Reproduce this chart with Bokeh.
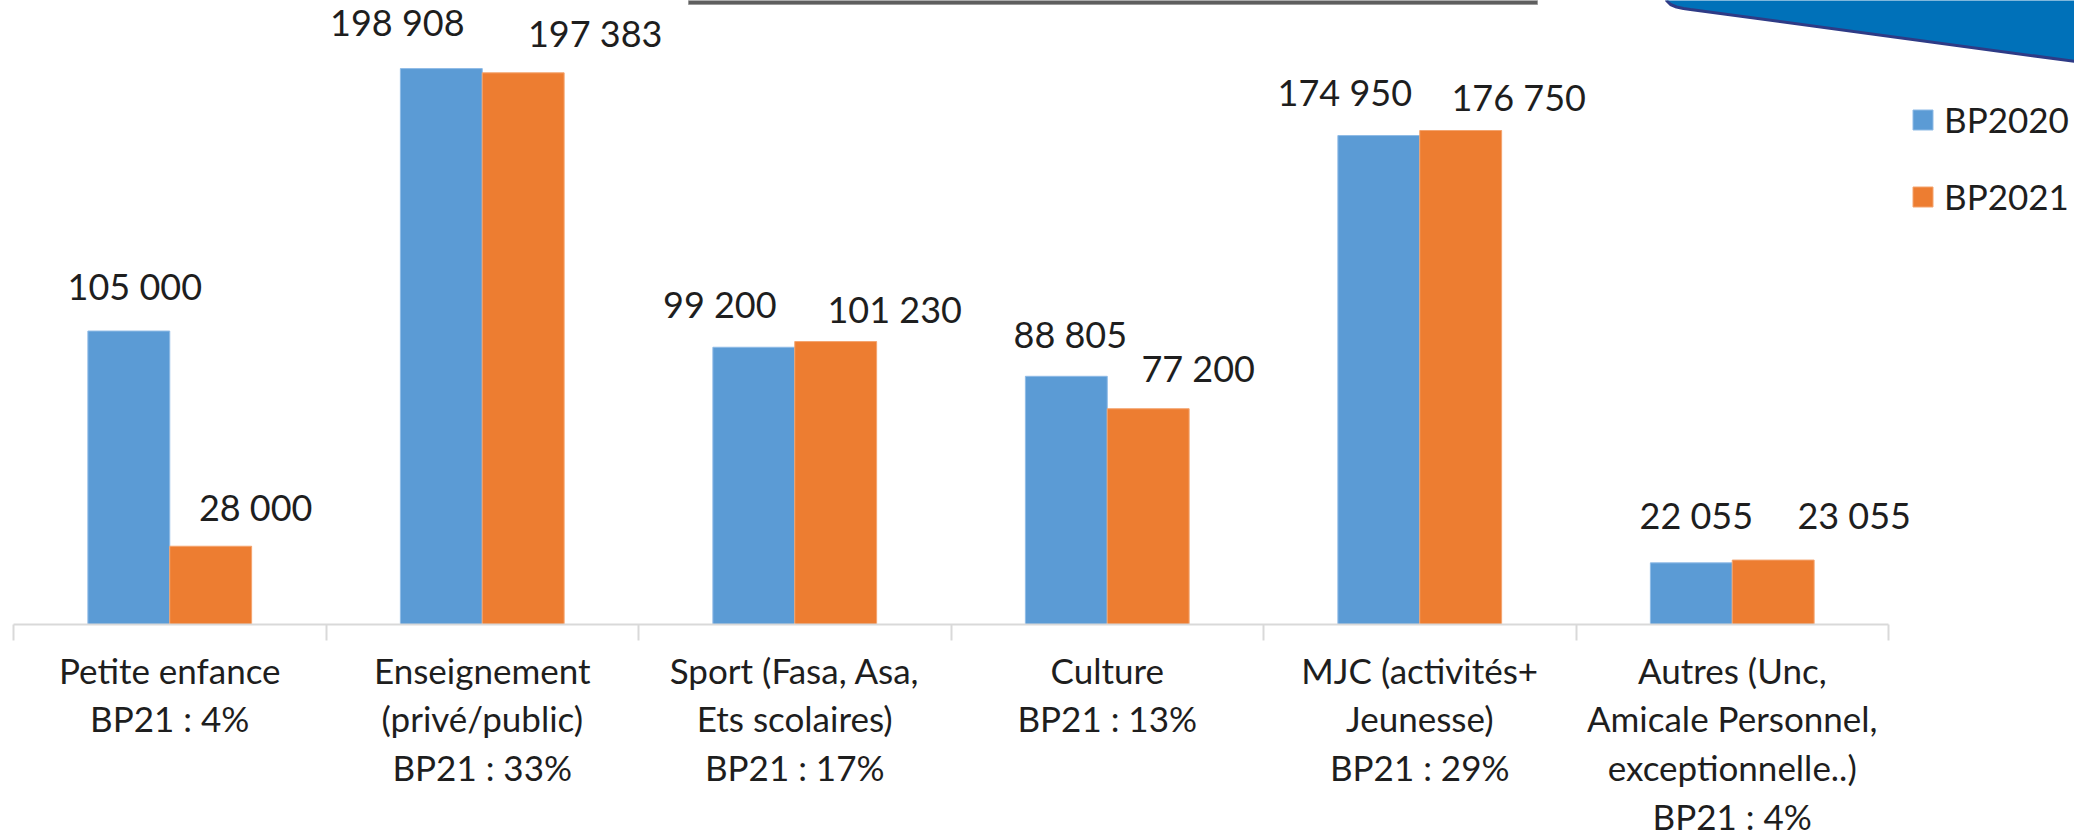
import numpy as np
from bokeh.plotting import figure
from bokeh.models import Range1d, LinearAxis, FixedTicker, Legend, LegendItem
from bokeh.core.properties import value
from bokeh.embed import file_html
from bokeh.resources import INLINE

# ---- data ----
categories = [
    "Petite enfance",
    "Enseignement\n(privé/public)",
    "Sport (Fasa, Asa,\nEts scolaires)",
    "Culture",
    "MJC (activités+\nJeunesse)",
    "Autres (Unc,\nAmicale Personnel,\nexceptionnelle..)",
]
shares_bp21 = ["4%", "33%", "17%", "13%", "29%", "4%"]
series_names = ["BP2020", "BP2021"]
bp2020 = [105000, 198908, 99200, 88805, 174950, 22055]
bp2021 = [28000, 197383, 101230, 77200, 176750, 23055]

# ---- layout constants (pixels) ----
W, H = 2074, 838
CAT_PX = 312.5          # width of one category on screen
X0_PX = 13              # x of the first category boundary
AXIS_PX = 624           # y (from top) of the value axis zero line
UNITS_PER_PX = 357.8    # value units per vertical pixel
BAR_W = 0.262

x_start = -X0_PX / CAT_PX
x_end = x_start + W / CAT_PX
y_end = AXIS_PX * UNITS_PER_PX
y_start = -(H - AXIS_PX) * UNITS_PER_PX

FONT = value("Lato")
TXT = "#1e1e1e"

p = figure(width=W, height=H, output_backend="svg", toolbar_location=None,
           x_axis_type=None, y_axis_type=None,
           x_range=Range1d(x_start, x_end), y_range=Range1d(y_start, y_end),
           min_border=0, min_border_left=0, min_border_right=0,
           min_border_top=0, min_border_bottom=0)
p.outline_line_color = None
p.xgrid.visible = False
p.ygrid.visible = False
p.background_fill_color = "white"

# decorative elements (screen pixels -> data)
def px2x(px):
    return (px - X0_PX) / CAT_PX
def py2y(py):
    return (AXIS_PX - py) * UNITS_PER_PX

# grey title-box edge at the top
p.quad(left=[px2x(688)], right=[px2x(1537)], top=[py2y(-2)], bottom=[py2y(4)],
       fill_color="#5f5f5f", line_color="#9a9a9a", line_width=1)

# blue banner at the top right
bx = [1665, 1666, 1670, 1676, 1683, 1690, 2075, 2110, 2110]
by = [-10, 0, 4, 6.5, 8, 9, 61, 65.7, -10]
p.patch([px2x(v) for v in bx], [py2y(v) for v in by],
        fill_color="#0071b9", line_color="#2e3b86", line_width=3)

n = len(categories)
idx = np.arange(n)
x_blue = idx + 0.5 - BAR_W / 2
x_orange = idx + 0.5 + BAR_W / 2

r1 = p.vbar(x=x_blue, top=bp2020, width=BAR_W, bottom=0,
            fill_color="#5b9bd5", line_color="#8fbbe6", line_width=1)
r2 = p.vbar(x=x_orange, top=bp2021, width=BAR_W, bottom=0,
            fill_color="#ed7d31", line_color="#f4a46e", line_width=1)

def fmt(v):
    return f"{v:,}".replace(",", " ")

# data label offsets (pixels): horizontal shift and height above the bar top
dx_blue = [6, -44, -34, 4, -34, 5]
dy_blue = [45, 47, 43, 42, 44, 48]
dx_orange = [45, 72, 59, 50, 58, 81]
dy_orange = [39, 40, 33, 41, 34, 45]

p.text(x=x_blue, y=bp2020, text=[fmt(v) for v in bp2020],
       x_offset=dx_blue, y_offset=[-d for d in dy_blue],
       text_align="center", text_baseline="middle",
       text_font=FONT, text_font_size="36px", text_color=TXT)
p.text(x=x_orange, y=bp2021, text=[fmt(v) for v in bp2021],
       x_offset=dx_orange, y_offset=[-d for d in dy_orange],
       text_align="center", text_baseline="middle",
       text_font=FONT, text_font_size="36px", text_color=TXT)

# category axis
centers = list(idx + 0.5)
bounds = list(range(n + 1))
xaxis = LinearAxis(fixed_location=0,
                   ticker=FixedTicker(ticks=centers, minor_ticks=bounds),
                   bounds=(0, n))
xaxis.axis_line_color = "#d9d9d9"
xaxis.axis_line_width = 2
xaxis.major_tick_line_color = None
xaxis.major_tick_out = 0
xaxis.major_tick_in = 0
xaxis.minor_tick_line_color = "#d9d9d9"
xaxis.minor_tick_line_width = 2
xaxis.minor_tick_out = 16
xaxis.minor_tick_in = 0
xaxis.major_label_overrides = {
    float(c): f"{cat}\nBP21 : {s}" for c, cat, s in zip(centers, categories, shares_bp21)
}
xaxis.major_label_text_font = "Lato"
xaxis.major_label_text_font_size = "35px"
xaxis.major_label_text_color = TXT
xaxis.major_label_text_line_height = 1.16
xaxis.major_label_standoff = 8
p.add_layout(xaxis, "below")

legend = Legend(items=[LegendItem(label=series_names[0], renderers=[r1]),
                       LegendItem(label=series_names[1], renderers=[r2])],
                location=(1910, H - 217))
legend.label_text_font = "Lato"
legend.label_text_font_size = "35px"
legend.label_text_color = TXT
legend.glyph_width = 25
legend.glyph_height = 25
legend.label_height = 40
legend.label_standoff = 9
legend.spacing = 35
legend.padding = 0
legend.margin = 0
legend.border_line_color = None
legend.background_fill_alpha = 0
p.add_layout(legend)

open("out.html", "w").write(file_html(p, INLINE))
